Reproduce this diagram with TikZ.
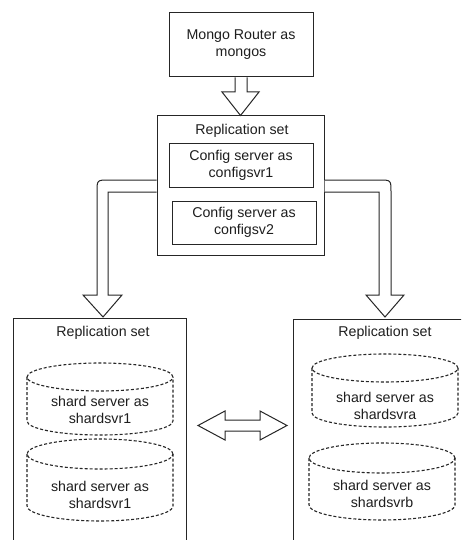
\documentclass[tikz,border=0pt]{standalone}
\usepackage{fontspec}
\setmainfont{Liberation Sans}
\usetikzlibrary{calc}
\definecolor{linec}{HTML}{262626}
\definecolor{textc}{HTML}{1E1E1E}
\tikzset{
  box/.style={draw=linec, line width=1pt, inner sep=0pt, fill=white},
  txt/.style={font=\fontsize{14.2}{17}\selectfont, align=center, text=textc, inner sep=0pt},
  blockarrow/.style={draw=linec, line width=1pt, fill=white, line join=miter},
  cylline/.style={draw=linec, line width=1.1pt, dash pattern=on 3pt off 2pt},
}
\newcommand\dbcylinder[5]{% left, right, top, bottom, ry
  \pgfmathsetmacro\cx{(#1+#2)/2}%
  \pgfmathsetmacro\rx{(#2-#1)/2}%
  \pgfmathsetmacro\ty{#3+#5}%
  \pgfmathsetmacro\by{#4-#5}%
  \draw[cylline] (\cx,\ty) ellipse [x radius=\rx pt, y radius=#5pt];
  \draw[cylline] (#1,\ty) -- (#1,\by) arc[start angle=180, end angle=360, x radius=\rx pt, y radius=#5pt] -- (#2,\ty);
}
\begin{document}
\begin{tikzpicture}[x=1pt,y=-1pt]
\useasboundingbox (0,0) rectangle (461,540);
\clip (0,0) rectangle (461,540);
\fill[white] (0,0) rectangle (461,540);

% router
\node[box, minimum width=144pt, minimum height=64pt, txt] (router) at (241,45) {Mongo Router as\\mongos};

% config replication set
\node[box, minimum width=167pt, minimum height=139pt] (rep) at (240.5,185.5) {};
\node[txt] (reptitle) at (242,131) {Replication set};
\node[box, minimum width=144pt, minimum height=43pt, txt] (cfg1) at (241,165.5) {Config server as\\configsvr1};
\node[box, minimum width=144pt, minimum height=43pt, txt] (cfg2) at (244,222.5) {Config server as\\configsv2};

% shard sets
\node[box, minimum width=173pt, minimum height=260pt, anchor=north west] (leftset) at (13,318) {};
\node[txt] (lefttitle) at (103,333) {Replication set};
\node[box, minimum width=200pt, minimum height=260pt, anchor=north west] (rightset) at (293,319) {};
\node[txt] (righttitle) at (385,333) {Replication set};

% cylinders
\dbcylinder{27}{173}{363}{435}{14}
\node[txt] (shard1) at (100,410) {shard server as\\shardsvr1};
\dbcylinder{27}{173}{439}{521}{15}
\node[txt] (shard2) at (100,494.5) {shard server as\\shardsvr1};
\dbcylinder{312}{458}{354}{427}{14}
\node[txt] (sharda) at (385,406) {shard server as\\shardsvra};
\dbcylinder{309}{455}{443}{520}{15}
\node[txt] (shardb) at (382,494) {shard server as\\shardsvrb};

% router -> config set
\coordinate (dA) at (router.south);
\coordinate (dB) at (rep.north);
\draw[blockarrow] ($(dA)+(-6,0)$) -- (235,92) -- (222,92) -- (dB) -- (259,92) -- (247,92) -- ($(dA)+(6,0)$);

% config set -> left shard set
\draw[blockarrow] (rep.west |- 0,180) -- (109,180) .. controls (97,180) .. (97,192) -- (97,295) -- (83,295) -- (103,317) -- (122,295) -- (108,295) -- (108,192) -- (rep.west |- 0,192);

% config set -> right shard set
\draw[blockarrow] (rep.east |- 0,180) -- (379,180) .. controls (391,180) .. (391,192) -- (391,295) -- (404,295) -- (385,317) -- (366,295) -- (379,295) -- (379,192) -- (rep.east |- 0,192);

% double arrow between shard sets
\draw[blockarrow] (198,425.5) -- (225,411) -- (225,420) -- (260,420) -- (260,411) -- (287,425.5) -- (260,440) -- (260,431) -- (225,431) -- (225,440) -- cycle;
\end{tikzpicture}
\end{document}
